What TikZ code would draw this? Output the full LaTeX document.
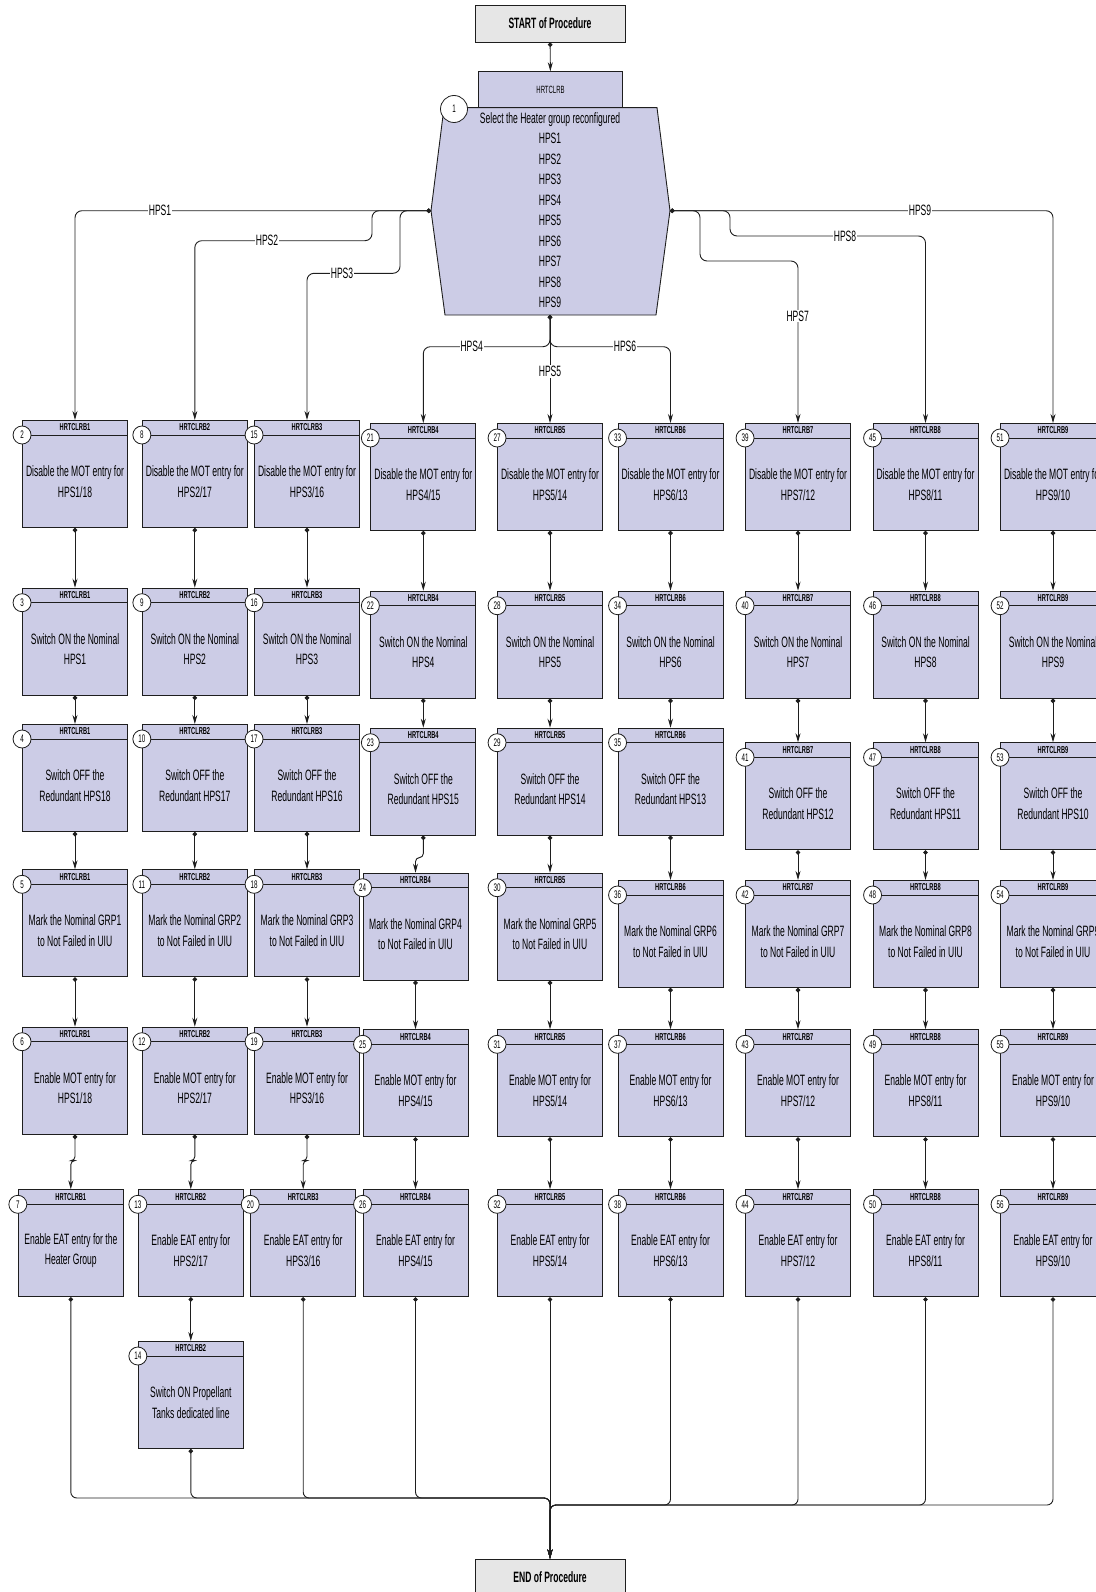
\documentclass[tikz,border=0pt]{standalone}
\usepackage{fontspec}
\setmainfont[FakeStretch=0.57]{Liberation Sans}
\usetikzlibrary{arrows.meta}
\definecolor{boxfill}{RGB}{204,204,230}
\definecolor{termfill}{RGB}{230,230,230}
\definecolor{linecol}{RGB}{30,30,30}
% one procedure step: name, x, y (top), number, header, text
\newcommand{\taskbox}[6]{%
  \node[task] (#1) at (#2,#3) {};
  \draw[linecol, line width=1pt] ([yshift=-15pt]#1.north west) -- ([yshift=-15pt]#1.north east);
  \node[hdr] (#1-h) at ([yshift=-7.5pt]#1.north) {#5};
  \node[body] (#1-t) at ([yshift=-7.5pt]#1.center) {#6};
  \node[num] (#1-n) at ([yshift=-15pt]#1.north west) {#4};
}
\begin{document}
\begin{tikzpicture}[x=1pt, y=-1pt,
  every node/.style={font=\fontsize{15}{20.5}\selectfont},
  task/.style={draw=linecol, fill=boxfill, line width=0.9pt, minimum width=105pt, minimum height=107pt, anchor=north, inner sep=0pt},
  hdr/.style={font=\bfseries\fontsize{10}{12}\selectfont, inner sep=0pt},
  body/.style={align=center, inner sep=0pt},
  num/.style={circle, draw=linecol, fill=white, line width=0.8pt, minimum size=18pt, inner sep=0pt, font=\fontsize{11}{12}\selectfont},
  term/.style={draw=linecol, fill=termfill, line width=0.9pt, minimum width=150pt, minimum height=37pt, font=\bfseries\fontsize{15}{18}\selectfont},
  flow/.style={draw=linecol, line width=0.9pt, arrows={Circle[length=4.5pt]-Stealth[length=9pt, width=5pt]}},
  brl/.style={fill=white, inner sep=1pt}]
  \useasboundingbox (0,0) rectangle (1095,1592);

  \node[term] (start) at (550,23.5) {START of Procedure};
  \node[task, minimum width=144pt, minimum height=36pt, anchor=center] (selhdr) at (550.5,89.7) {};
  \node[inner sep=0pt, font=\fontsize{10.5}{12}\selectfont] (selhdr-h) at (selhdr) {HRTCLRB};
  \draw[draw=linecol, fill=boxfill, line width=0.9pt] (444,107.7) -- (657,107.7) -- (670,210.7) -- (656,315) -- (445,315) -- (431,210.7) -- cycle;
  \coordinate (hexL) at (431,210.7);
  \coordinate (hexR) at (670,210.7);
  \coordinate (hexB) at (550,315);
  \node[body] (sel) at (550,210.2) {Select the Heater group reconfigured\\HPS1\\HPS2\\HPS3\\HPS4\\HPS5\\HPS6\\HPS7\\HPS8\\HPS9};
  \node[num, minimum size=27pt] (sel-n) at (454,109) {1};
  \draw[flow] (start) -- (selhdr);

  % columns of steps
  \foreach \c/\x/\xd/\xf/\n/\yc/\yd in {1/75/75/70.8/2/724/869.3, 2/194.8/194.8/190.8/8/724/869.3,
      3/307/307/303.2/15/724/869.3, 4/423.3/415.5/415.5/21/727.7/872.7, 5/550/550/550/27/727.7/872.7,
      6/670.5/670.5/670.5/33/727.7/880, 7/798/798/798/39/742.3/880, 8/925.5/925.5/925.5/45/742.3/880,
      9/1053/1053/1053/51/742.3/880}{
    \pgfmathtruncatemacro\r{19-\c}
    \pgfmathsetmacro\ya{\c<4 ? 420 : 423}
    \pgfmathsetmacro\yb{\ya+167.7}
    \pgfmathsetmacro\ye{\c<4 ? 1026.7 : 1029.3}
    \pgfmathtruncatemacro\sB{\n+1}
    \pgfmathtruncatemacro\sC{\n+2}
    \pgfmathtruncatemacro\sD{\n+3}
    \pgfmathtruncatemacro\sE{\n+4}
    \pgfmathtruncatemacro\sF{\n+5}
    \taskbox{dis\c}{\x}{\ya}{\n}{HRTCLRB\c}{Disable the MOT entry for\\HPS\c/\r}
    \taskbox{on\c}{\x}{\yb}{\sB}{HRTCLRB\c}{Switch ON the Nominal\\HPS\c}
    \taskbox{off\c}{\x}{\yc}{\sC}{HRTCLRB\c}{Switch OFF the\\Redundant HPS\r}
    \taskbox{mark\c}{\xd}{\yd}{\sD}{HRTCLRB\c}{Mark the Nominal GRP\c\\to Not Failed in UIU}
    \taskbox{mot\c}{\xd}{\ye}{\sE}{HRTCLRB\c}{Enable MOT entry for\\HPS\c/\r}
    \ifnum\c=1 \def\eattext{Enable EAT entry for the\\Heater Group}\else \def\eattext{Enable EAT entry for\\HPS\c/\r}\fi
    \taskbox{eat\c}{\xf}{1189.3}{\sF}{HRTCLRB\c}{\eattext}
  }
  \taskbox{prop2}{190.8}{1341}{14}{HRTCLRB2}{Switch ON Propellant\\Tanks dedicated line}

  % branches out of step 1
  \draw[flow, rounded corners=7pt] (hexL) -| (dis1.north);
  \draw[flow, rounded corners=7pt] (hexL) -| (372,240.7) -| (dis2.north);
  \draw[flow, rounded corners=7pt] (hexL) -| (400,273.3) -| (dis3.north);
  \draw[flow, rounded corners=7pt] (hexB) -- ++(0,31.7) -| (dis4.north);
  \draw[flow] (hexB) -- (dis5.north);
  \draw[flow, rounded corners=7pt] (hexB) -- ++(0,31.7) -| (dis6.north);
  \draw[flow, rounded corners=7pt] (hexR) -| (700,261) -| (dis7.north);
  \draw[flow, rounded corners=7pt] (hexR) -| (730,236) -| (dis8.north);
  \draw[flow, rounded corners=7pt] (hexR) -| (dis9.north);
  \node[brl] (b1) at (160,210.7) {HPS1};
  \node[brl] (b2) at (267,240.7) {HPS2};
  \node[brl] (b3) at (342,273.3) {HPS3};
  \node[brl] (b4) at (471.7,346.7) {HPS4};
  \node[brl] (b5) at (550,371.7) {HPS5};
  \node[brl] (b6) at (625,346.7) {HPS6};
  \node[brl] (b7) at (797.7,316) {HPS7};
  \node[brl] (b8) at (845,236) {HPS8};
  \node[brl] (b9) at (920,210.7) {HPS9};

  % steps inside each column
  \foreach \c in {1,...,9}{
    \draw[flow] (dis\c) -- (on\c);
    \draw[flow] (on\c) -- (off\c);
    \draw[flow] (mark\c) -- (mot\c);
  }
  \foreach \c in {1,2,3,5,6,7,8,9} \draw[flow] (off\c) -- (mark\c);
  \foreach \c in {4,...,9} \draw[flow] (mot\c) -- (eat\c);
  \foreach \c in {1,2,3} \draw[flow, rounded corners=4pt] (mot\c.south) -- ++(0,26) -| (eat\c.north);
  \draw[flow, rounded corners=4pt] (off4.south) -- ++(0,22) -| (mark4.north);
  \draw[flow] (eat2) -- (prop2);

  % end of procedure
  \node[term] (endp) at (550,1577.5) {END of Procedure};
  \coordinate (busL) at (550,1498);
  \coordinate (busR) at (550,1505);
  \foreach \s in {eat1,prop2,eat3,eat4} \draw[flow, rounded corners=6pt] (\s.south) |- (busL) -- (endp.north);
  \foreach \s in {eat6,eat7,eat8,eat9} \draw[flow, rounded corners=6pt] (\s.south) |- (busR) -- (endp.north);
  \draw[flow] (eat5) -- (endp);
\end{tikzpicture}
\end{document}
